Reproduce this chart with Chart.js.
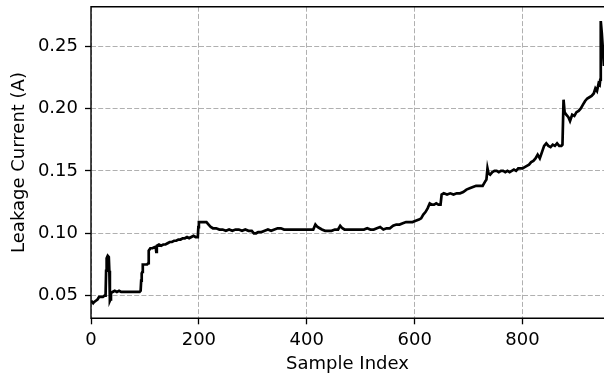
<!DOCTYPE html>
<html>
<head>
<meta charset="utf-8">
<script src="https://cdn.jsdelivr.net/npm/chart.js@4"></script>
<style>
  html, body { margin: 0; padding: 0; background: #fff; }
  #wrap { width: 604px; height: 374px; }
</style>
</head>
<body>
<div id="wrap"><canvas id="c" width="604" height="374"></canvas></div>
<script>
// Sample indices (x) and leakage current readings (y)
const sampleIndex = [
  0, 2, 4, 6, 9, 12, 15, 18, 22, 25, 27, 28, 29, 31, 33, 34, 35, 36, 37, 40,
  44, 48, 52, 56, 60, 65, 70, 75, 80, 85, 90, 92, 93, 94, 95, 96, 100, 104, 106, 107,
  110, 114, 118, 120, 121, 122, 126, 130, 134, 138, 142, 146, 150, 154, 158, 162, 166, 170, 174, 178,
  182, 186, 190, 194, 198, 199, 200, 205, 210, 214, 218, 222, 226, 232, 238, 244, 250, 256, 262, 268,
  274, 280, 286, 292, 298, 302, 306, 310, 316, 322, 328, 334, 340, 346, 352, 358, 364, 370, 376, 382,
  388, 394, 400, 406, 412, 416, 420, 424, 428, 434, 440, 446, 452, 458, 462, 466, 470, 476, 482, 488,
  494, 500, 506, 512, 518, 524, 530, 536, 542, 548, 554, 560, 566, 572, 578, 584, 590, 596, 602, 608,
  612, 616, 620, 624, 628, 632, 636, 640, 644, 648, 650, 654, 660, 666, 672, 678, 684, 690, 696, 702,
  708, 714, 720, 726, 730, 733, 735, 737, 740, 744, 748, 752, 756, 760, 764, 768, 772, 776, 780, 784,
  788, 792, 796, 800, 804, 808, 812, 816, 820, 824, 828, 832, 836, 840, 844, 848, 852, 856, 860, 864,
  868, 872, 874, 876, 878, 881, 885, 888, 892, 896, 900, 904, 908, 912, 916, 920, 924, 928, 932, 935,
  938, 941, 943, 944, 945, 947, 951
];
const leakageCurrent = [
  0.046, 0.045, 0.044, 0.045, 0.046, 0.047, 0.049, 0.049, 0.049, 0.050, 0.050, 0.070, 0.080, 0.082, 0.081, 0.070, 0.046, 0.047, 0.052, 0.053,
  0.054, 0.053, 0.054, 0.053, 0.053, 0.053, 0.053, 0.053, 0.053, 0.053, 0.053, 0.054, 0.062, 0.068, 0.069, 0.075, 0.075, 0.075, 0.076, 0.086,
  0.088, 0.088, 0.089, 0.089, 0.085, 0.090, 0.091, 0.090, 0.091, 0.091, 0.092, 0.093, 0.093, 0.094, 0.094, 0.095, 0.095, 0.096, 0.096, 0.097,
  0.096, 0.097, 0.098, 0.097, 0.097, 0.105, 0.109, 0.109, 0.109, 0.109, 0.107, 0.105, 0.104, 0.104, 0.103, 0.103, 0.102, 0.103, 0.102, 0.103,
  0.103, 0.102, 0.103, 0.102, 0.102, 0.100, 0.100, 0.101, 0.101, 0.102, 0.103, 0.102, 0.103, 0.104, 0.104, 0.103, 0.103, 0.103, 0.103, 0.103,
  0.103, 0.103, 0.103, 0.103, 0.103, 0.107, 0.105, 0.104, 0.103, 0.102, 0.102, 0.102, 0.103, 0.103, 0.106, 0.104, 0.103, 0.103, 0.103, 0.103,
  0.103, 0.103, 0.103, 0.104, 0.103, 0.103, 0.104, 0.105, 0.103, 0.104, 0.104, 0.106, 0.107, 0.107, 0.108, 0.109, 0.109, 0.109, 0.110, 0.111,
  0.112, 0.115, 0.117, 0.120, 0.124, 0.123, 0.123, 0.124, 0.123, 0.123, 0.131, 0.132, 0.131, 0.132, 0.131, 0.132, 0.132, 0.133, 0.135, 0.136,
  0.137, 0.138, 0.138, 0.138, 0.141, 0.143, 0.152, 0.148, 0.147, 0.149, 0.150, 0.150, 0.149, 0.150, 0.150, 0.149, 0.150, 0.149, 0.150, 0.151,
  0.150, 0.152, 0.152, 0.152, 0.153, 0.154, 0.155, 0.157, 0.158, 0.160, 0.163, 0.160, 0.165, 0.170, 0.172, 0.170, 0.169, 0.171, 0.170, 0.172,
  0.170, 0.170, 0.171, 0.207, 0.197, 0.195, 0.193, 0.190, 0.195, 0.194, 0.197, 0.198, 0.200, 0.203, 0.206, 0.208, 0.209, 0.210, 0.212, 0.216,
  0.214, 0.220, 0.219, 0.223, 0.270, 0.260, 0.234
];
const xTickValues = [0, 200, 400, 600, 800];
const yTickValues = [0.05, 0.10, 0.15, 0.20, 0.25];

const points = sampleIndex.map((x, i) => ({ x: x, y: leakageCurrent[i] }));
const FONT = 'DejaVu Sans';
const FS = 18;

const spines = {
  id: 'spines',
  afterDraw(chart) {
    const { ctx, chartArea: a } = chart;
    ctx.save();
    ctx.strokeStyle = '#000';
    ctx.lineWidth = 1.4;
    ctx.beginPath();
    ctx.moveTo(a.left, a.top); ctx.lineTo(a.left, a.bottom);
    ctx.moveTo(a.left - 0.7, a.bottom); ctx.lineTo(a.right, a.bottom);
    ctx.moveTo(a.left - 0.7, a.top); ctx.lineTo(a.right, a.top);
    ctx.stroke();
    ctx.restore();
  }
};

new Chart(document.getElementById('c'), {
  type: 'line',
  data: {
    datasets: [{
      data: points,
      borderColor: '#000',
      borderWidth: 2.7,
      pointRadius: 0,
      tension: 0,
      fill: false
    }]
  },
  options: {
    responsive: false,
    animation: false,
    devicePixelRatio: 1,
    layout: { padding: { left: 0, right: 0, top: 6.7, bottom: 0 } },
    plugins: { legend: { display: false }, tooltip: { enabled: false } },
    scales: {
      x: {
        type: 'linear',
        min: 0,
        max: 951,
        afterBuildTicks: (s) => { s.ticks = xTickValues.map(v => ({ value: v })); },
        afterFit: (s) => { s.height = 55.7; s.paddingLeft = 0; s.paddingRight = 0; },
        grid: { color: '#b0b0b0', lineWidth: 1, tickColor: '#000', tickLength: 6, tickWidth: 1.3 },
        border: { display: false, dash: [5, 2.2] },
        ticks: { color: '#000', font: { family: FONT, size: FS }, padding: 5.5, maxRotation: 0, callback: (v) => String(v) },
        title: { display: true, text: 'Sample Index', color: '#000', font: { family: FONT, size: FS }, padding: { top: 0, bottom: -1 } }
      },
      y: {
        type: 'linear',
        min: 0.0319,
        max: 0.2815,
        afterBuildTicks: (s) => { s.ticks = yTickValues.map(v => ({ value: v })); },
        afterFit: (s) => { s.width = 91; s.paddingTop = 0; s.paddingBottom = 0; },
        grid: { color: '#b0b0b0', lineWidth: 1, tickColor: '#000', tickLength: 6, tickWidth: 1.3 },
        border: { display: false, dash: [5, 2.2] },
        ticks: { color: '#000', font: { family: FONT, size: FS }, padding: 7, callback: (v) => Number(v).toFixed(2) },
        title: { display: true, text: 'Leakage Current (A)', color: '#000', font: { family: FONT, size: FS }, padding: { top: 8.2, bottom: 0 } }
      }
    }
  },
  plugins: [spines]
});
</script>
</body>
</html>
